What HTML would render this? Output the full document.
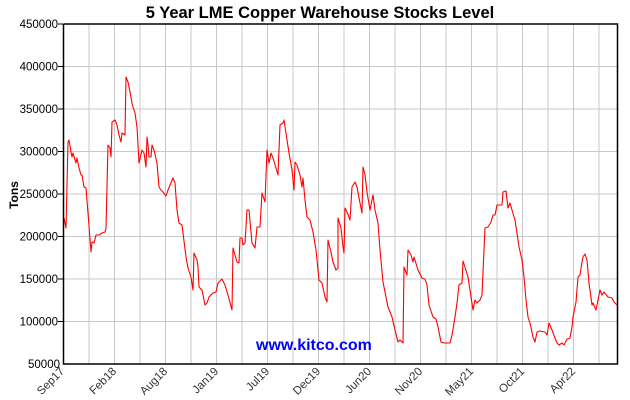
<!DOCTYPE html>
<html><head><style>body{margin:0;background:#fff}svg{display:block}</style></head><body>
<svg width="630" height="400" xmlns="http://www.w3.org/2000/svg" font-family="Liberation Sans, sans-serif">
<rect width="630" height="400" fill="#fff"/>
<g stroke="#c8c8c8" stroke-width="1">
<line x1="89" y1="24" x2="89" y2="364"/><line x1="114.5" y1="24" x2="114.5" y2="364"/><line x1="140" y1="24" x2="140" y2="364"/><line x1="165.5" y1="24" x2="165.5" y2="364"/><line x1="191" y1="24" x2="191" y2="364"/><line x1="216.5" y1="24" x2="216.5" y2="364"/><line x1="242" y1="24" x2="242" y2="364"/><line x1="267.5" y1="24" x2="267.5" y2="364"/><line x1="293" y1="24" x2="293" y2="364"/><line x1="318.5" y1="24" x2="318.5" y2="364"/><line x1="344" y1="24" x2="344" y2="364"/><line x1="369.5" y1="24" x2="369.5" y2="364"/><line x1="395" y1="24" x2="395" y2="364"/><line x1="420.5" y1="24" x2="420.5" y2="364"/><line x1="446" y1="24" x2="446" y2="364"/><line x1="471.5" y1="24" x2="471.5" y2="364"/><line x1="497" y1="24" x2="497" y2="364"/><line x1="522.5" y1="24" x2="522.5" y2="364"/><line x1="548" y1="24" x2="548" y2="364"/><line x1="573.5" y1="24" x2="573.5" y2="364"/><line x1="599" y1="24" x2="599" y2="364"/>
<line x1="63" y1="66.5" x2="617" y2="66.5"/><line x1="63" y1="109" x2="617" y2="109"/><line x1="63" y1="151.5" x2="617" y2="151.5"/><line x1="63" y1="194" x2="617" y2="194"/><line x1="63" y1="236.5" x2="617" y2="236.5"/><line x1="63" y1="279" x2="617" y2="279"/><line x1="63" y1="321.5" x2="617" y2="321.5"/>
</g>
<text x="256" y="350" font-size="16" font-weight="bold" fill="#0000ff">www.kitco.com</text>
<polyline fill="none" stroke="#ff0000" stroke-width="1.1" stroke-linejoin="round" points="64,218 66,228 68,142 69,140 71,152 72,157 73,153 76,163 77,158 79,168 81,175 82,175 84,187 86,188 88,213 91,252 92,242 94,243 96,235 99,235 102,233 105,232 106,228 108,145 110,148 111,157 112,122 115,120 117,125 119,135 121,142 122,133 125,135 126,77 128,82 130,92 132,103 133,107 135,113 137,127 139,163 142,150 144,153 146,167 147,137 148,145 149,157 151,157 152,145 154,150 157,163 159,187 161,190 163,192 166,196 168,190 173,178 175,183 177,210 179,223 182,225 186,257 188,268 191,277 193,290 194,253 197,260 198,267 199,287 202,290 205,305 207,303 209,297 213,293 216,292 218,283 222,279 225,285 228,295 232,310 233,248 237,262 239,263 240,238 242,238 243,245 245,243 247,210 249,210 252,243 255,248 257,227 260,227 262,193 265,202 267,150 269,163 271,153 273,158 276,168 278,175 280,125 283,123 284,120 287,140 289,153 292,170 294,190 295,162 297,165 300,175 302,187 303,178 305,200 307,217 310,220 313,232 316,250 319,280 322,283 325,297 327,302 328,240 331,252 333,262 336,270 338,268 338,218 341,228 343,247 344,253 345,208 347,212 350,220 352,187 355,182 357,187 359,198 362,213 363,167 365,175 367,192 370,210 373,195 375,210 378,223 380,250 383,282 385,292 388,307 392,317 395,330 398,342 400,340 403,343 404,267 407,275 408,250 411,255 413,262 414,257 418,270 422,278 425,279 427,285 429,305 433,317 436,319 438,327 441,342 444,343 447,343 450,343 452,335 455,317 457,303 459,285 462,283 463,261 465,267 468,277 470,290 473,310 475,300 477,303 480,300 482,295 483,272 485,228 488,227 491,222 493,215 495,215 497,205 499,205 502,205 503,192 506,191 508,208 510,203 512,210 515,220 517,233 519,247 522,260 524,277 526,300 528,317 530,323 533,337 535,342 537,332 540,331 545,332 547,335 549,323 552,330 555,338 557,343 559,345 562,343 564,345 567,339 570,338 572,327 573,317 576,302 578,277 580,275 582,262 583,257 585,254 587,260 589,283 592,305 593,303 596,310 598,300 600,290 602,295 604,292 608,297 612,298 614,302 617,305"/>
<g stroke="#000" stroke-width="1.5" fill="none"><polyline points="63.5,24 63.5,364 617.5,364 617.5,24 63.5,24"/></g>
<g stroke="#000" stroke-width="1"><line x1="58" y1="24" x2="63" y2="24"/><line x1="58" y1="66.5" x2="63" y2="66.5"/><line x1="58" y1="109" x2="63" y2="109"/><line x1="58" y1="151.5" x2="63" y2="151.5"/><line x1="58" y1="194" x2="63" y2="194"/><line x1="58" y1="236.5" x2="63" y2="236.5"/><line x1="58" y1="279" x2="63" y2="279"/><line x1="58" y1="321.5" x2="63" y2="321.5"/></g>
<g font-size="11.5" text-anchor="end" fill="#000">
<text x="58" y="28">450000</text><text x="58" y="70.5">400000</text><text x="58" y="113">350000</text><text x="58" y="155.5">300000</text><text x="58" y="198">250000</text><text x="58" y="240.5">200000</text><text x="58" y="283">150000</text><text x="58" y="325.5">100000</text><text x="60" y="368">50000</text>
</g>
<g font-size="11.5" text-anchor="end" fill="#333">
<text transform="translate(65,372) rotate(-45)">Sep17</text>
<text transform="translate(117,372) rotate(-45)">Feb18</text>
<text transform="translate(168,372) rotate(-45)">Aug18</text>
<text transform="translate(219,372) rotate(-45)">Jan19</text>
<text transform="translate(270,372) rotate(-45)">Jul19</text>
<text transform="translate(321,372) rotate(-45)">Dec19</text>
<text transform="translate(372,372) rotate(-45)">Jun20</text>
<text transform="translate(423,372) rotate(-45)">Nov20</text>
<text transform="translate(474,372) rotate(-45)">May21</text>
<text transform="translate(525,372) rotate(-45)">Oct21</text>
<text transform="translate(576,372) rotate(-45)">Apr22</text>
</g>
<text x="320" y="18" font-size="16.5" font-weight="bold" text-anchor="middle">5 Year LME Copper Warehouse Stocks Level</text>
<text transform="translate(18,195) rotate(-90)" font-size="12" font-weight="bold" text-anchor="middle">Tons</text>
</svg>
</body></html>
